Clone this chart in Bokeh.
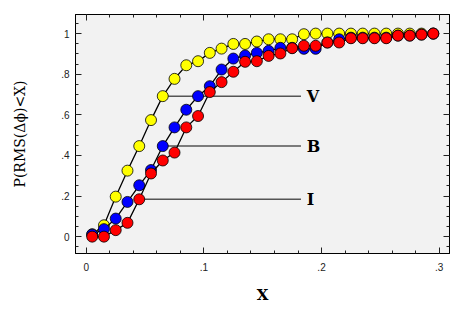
from bokeh.plotting import figure
from bokeh.models import Range1d, LinearAxis, FixedTicker, CustomJSTickFormatter, ColumnDataSource
from bokeh.embed import file_html
from bokeh.resources import INLINE
from bokeh.core.properties import value

# ---- data ----
x_vals = [0.005, 0.015, 0.025, 0.035, 0.045, 0.055, 0.065, 0.075, 0.085, 0.095,
          0.105, 0.115, 0.125, 0.135, 0.145, 0.155, 0.165, 0.175, 0.185, 0.195,
          0.205, 0.215, 0.225, 0.235, 0.245, 0.255, 0.265, 0.275, 0.285, 0.295]

v_vals = [0.012, 0.056, 0.197, 0.325, 0.446, 0.574, 0.692, 0.777, 0.844, 0.864,
          0.905, 0.926, 0.949, 0.949, 0.961, 0.972, 0.972, 0.972, 0.997, 1.0,
          1.0, 1.0, 1.0, 1.0, 1.0, 1.0, 1.0, 1.0, 1.0, 1.0]

b_vals = [0.010, 0.037, 0.089, 0.171, 0.253, 0.328, 0.446, 0.538, 0.625, 0.692,
          0.741, 0.823, 0.877, 0.892, 0.905, 0.915, 0.930, 0.930, 0.925, 0.925,
          0.956, 0.972, 0.980, 0.980, 0.980, 0.980, 0.990, 0.990, 0.995, 1.0]

i_vals = [0.0, 0.0, 0.032, 0.068, 0.184, 0.311, 0.375, 0.414, 0.538, 0.594,
          0.712, 0.761, 0.812, 0.861, 0.864, 0.890, 0.902, 0.928, 0.940, 0.940,
          0.956, 0.956, 0.977, 0.977, 0.977, 0.977, 0.990, 0.990, 0.995, 1.0]

series_names = ["V", "B", "I"]
series_colors = ["#ffff00", "#0000ff", "#ff0000"]

# annotation lines: start x, end x, y level, label
ann_x0 = [0.065, 0.065, 0.045]
ann_x1 = [0.1825, 0.1825, 0.1825]
ann_y = [0.692, 0.446, 0.184]
ann_label_x = [0.1875, 0.1875, 0.1875]

x_major = [0.0, 0.1, 0.2, 0.3]
x_minor = [0.0, 0.02, 0.04, 0.06, 0.08, 0.1, 0.12, 0.14, 0.16, 0.18, 0.2,
           0.22, 0.24, 0.26, 0.28, 0.3]
y_major = [0.0, 0.2, 0.4, 0.6, 0.8, 1.0]
y_minor = [-0.05, 0.0, 0.05, 0.1, 0.15, 0.2, 0.25, 0.3, 0.35, 0.4, 0.45, 0.5,
           0.55, 0.6, 0.65, 0.7, 0.75, 0.8, 0.85, 0.9, 0.95, 1.0, 1.05]

x_title = "X"
y_title = "P(RMS(\u0394\u03d5)<X)"

# ---- figure ----
p = figure(frame_width=374, frame_height=239,
           min_border_left=75, min_border_right=5, min_border_top=14, min_border_bottom=50,
           x_range=Range1d(-0.0092, 0.3088), y_range=Range1d(-0.083, 1.094),
           output_backend="svg", toolbar_location=None,
           x_axis_location=None, y_axis_location=None)
p.background_fill_color = "#f2f2f2"
p.border_fill_color = "white"
p.outline_line_color = "black"
p.outline_line_width = 1
p.xgrid.visible = False
p.ygrid.visible = False

fmt = CustomJSTickFormatter(code="""
if (Math.abs(tick) < 1e-9) return "0";
if (Math.abs(tick - 1) < 1e-9) return "1";
return tick.toFixed(1).replace(/^0/, "");
""")
blank = CustomJSTickFormatter(code="return '';")

def style_axis(ax, show_labels):
    ax.major_tick_in = 6
    ax.major_tick_out = 0
    ax.minor_tick_in = 3
    ax.minor_tick_out = 0
    ax.axis_line_color = "black"
    ax.major_tick_line_color = "#222222"
    ax.minor_tick_line_color = "#222222"
    if show_labels:
        ax.major_label_text_font = "Liberation Sans"
        ax.major_label_text_font_size = "10px"
        ax.major_label_text_color = "#222222"
    else:
        ax.major_label_text_font_size = "0px"
        ax.major_label_standoff = 0

xb = LinearAxis(ticker=FixedTicker(ticks=x_major, minor_ticks=x_minor), formatter=fmt)
style_axis(xb, True)
xb.major_label_standoff = 9
xb.axis_label = x_title
xb.axis_label_text_font = "DejaVu Serif"
xb.axis_label_text_font_style = "bold"
xb.axis_label_text_font_size = "15px"
xb.axis_label_standoff = 12
xb.axis_label_text_color = "black"
p.add_layout(xb, "below")

yl = LinearAxis(ticker=FixedTicker(ticks=y_major, minor_ticks=y_minor), formatter=fmt)
style_axis(yl, True)
yl.major_label_standoff = 6
yl.axis_label = y_title
yl.axis_label_text_font = "DejaVu Serif"
yl.axis_label_text_font_style = "normal"
yl.axis_label_text_font_size = "14px"
yl.axis_label_standoff = 30
yl.axis_label_text_color = "black"
p.add_layout(yl, "left")

xt = LinearAxis(ticker=FixedTicker(ticks=x_major, minor_ticks=x_minor), formatter=blank)
style_axis(xt, False)
p.add_layout(xt, "above")

yr = LinearAxis(ticker=FixedTicker(ticks=y_major, minor_ticks=y_minor), formatter=blank)
style_axis(yr, False)
p.add_layout(yr, "right")

# annotation lines and labels
ann_src = ColumnDataSource(dict(x0=ann_x0, x1=ann_x1, y=ann_y, lx=ann_label_x, t=series_names))
p.segment(x0="x0", y0="y", x1="x1", y1="y", source=ann_src, line_color="#555555", line_width=1.5)
p.text(x="lx", y="y", text="t", source=ann_src, text_font=value("DejaVu Serif"),
       text_font_size="16px", text_font_style="bold", text_align="left",
       text_baseline="middle", text_color="black")

for vals, col in zip([v_vals, b_vals, i_vals], series_colors):
    src = ColumnDataSource(dict(x=x_vals, y=vals))
    p.line("x", "y", source=src, line_color="black", line_width=1.3)
    p.scatter("x", "y", source=src, marker="circle", size=11, fill_color=col,
              line_color="black", line_width=0.8)

open("out.html", "w").write(file_html(p, INLINE))
